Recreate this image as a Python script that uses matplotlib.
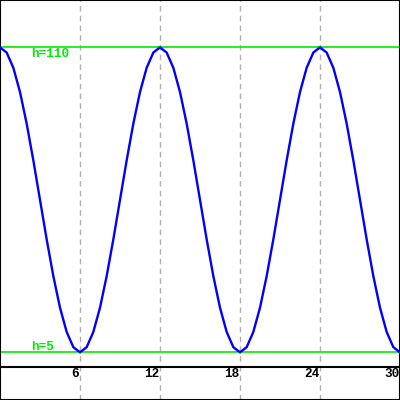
import matplotlib
matplotlib.use("Agg")
import matplotlib.pyplot as plt

# time (hours) and height values
t = [i * 0.5 for i in range(61)]
h = [110, 108.21, 102.97, 94.62, 83.75, 71.09, 57.5, 43.91, 31.25, 20.38,
     12.03, 6.79, 5, 6.79, 12.03, 20.38, 31.25, 43.91, 57.5, 71.09,
     83.75, 94.62, 102.97, 108.21,
     110, 108.21, 102.97, 94.62, 83.75, 71.09, 57.5, 43.91, 31.25, 20.38,
     12.03, 6.79, 5, 6.79, 12.03, 20.38, 31.25, 43.91, 57.5, 71.09,
     83.75, 94.62, 102.97, 108.21,
     110, 108.21, 102.97, 94.62, 83.75, 71.09, 57.5, 43.91, 31.25, 20.38,
     12.03, 6.79, 5]

x_ticks = [6, 12, 18, 24, 30]
x_tick_labels = ["6", "12", "18", "24", "30"]
h_max = 110
h_min = 5
ref_labels = ["h=110", "h=5"]

fig = plt.figure(figsize=(4, 4), dpi=100)
ax = fig.add_axes([0, 0, 1, 1])
ax.set_xlim(0, 30)
ax.set_ylim(-11.4, 126.3)
ax.set_xticks([])
ax.set_yticks([])
for s in ax.spines.values():
    s.set_color("black")
    s.set_linewidth(1.5)

for xt in x_ticks[:-1]:
    ax.axvline(xt, color="#b0b0b0", lw=1, ls=(0, (4, 3)), zorder=1)

ax.axhline(0, color="black", lw=1.5, zorder=2)
ax.axhline(h_max, color="#00ee00", lw=1.2, zorder=2)
ax.axhline(h_min, color="#00ee00", lw=1.2, zorder=2)

ax.plot(t, h, color="#0000ff", lw=1.7, zorder=3, solid_joinstyle="miter")

font = dict(family=["Liberation Mono", "DejaVu Sans Mono"], weight="bold", size=9.2)
ax.text(2.3, 106.7, ref_labels[0], color="#00ee00", ha="left", va="baseline", **font)
ax.text(2.3, 5.8, ref_labels[1], color="#00ee00", ha="left", va="baseline", **font)

for xt, lab in zip(x_ticks, x_tick_labels):
    ax.text(xt - 0.06, -3.6, lab, color="black", ha="right", va="baseline", **font)

fig.savefig("out.png", dpi=100)
